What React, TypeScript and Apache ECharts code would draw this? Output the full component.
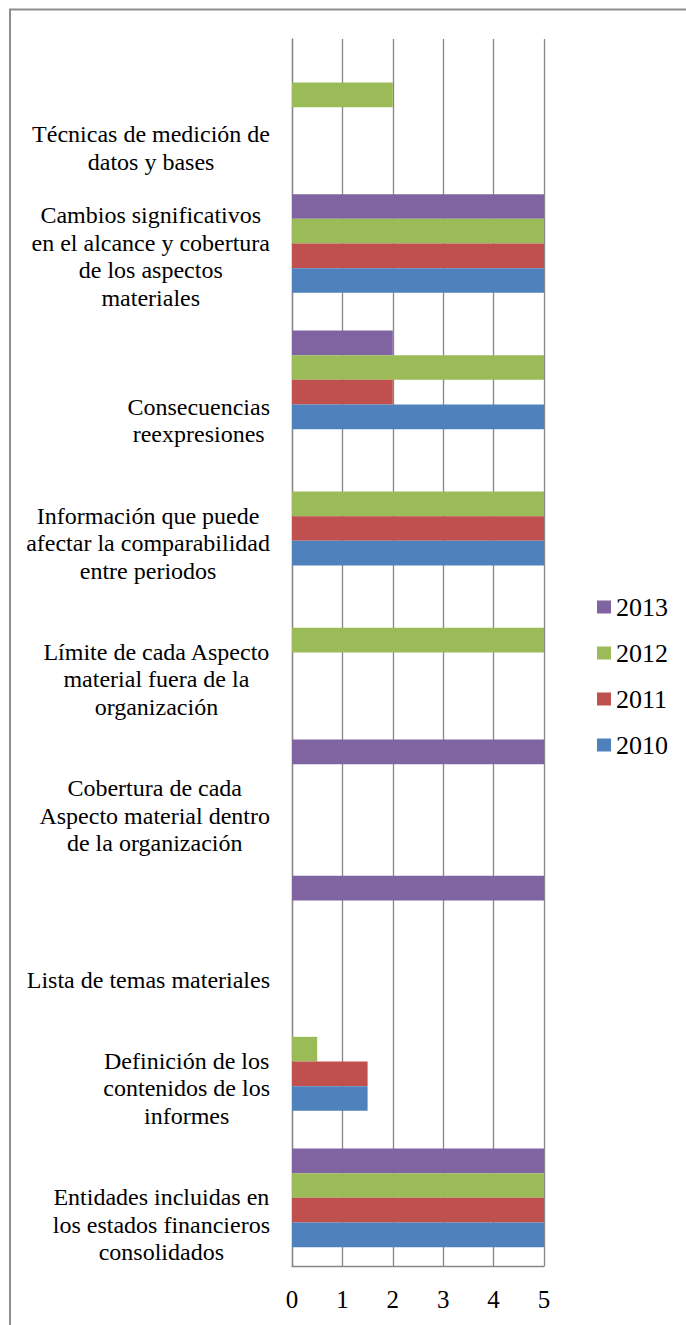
import React, { useEffect, useRef } from "react";
import * as echarts from "echarts";

// Categories listed bottom-to-top (index 0 is the lowest band)
const categories: string[] = [
  "Entidades incluidas en\nlos estados financieros\nconsolidados",
  "Definición de los\ncontenidos de los\ninformes",
  "Lista de temas materiales",
  "Cobertura de cada\nAspecto material dentro\nde la organización",
  "Límite de cada Aspecto\nmaterial fuera de la\norganización",
  "Información que puede\nafectar la comparabilidad\nentre periodos",
  "Consecuencias\nreexpresiones",
  "Cambios significativos\nen el alcance y cobertura\nde los aspectos\nmateriales",
  "Técnicas de medición de\ndatos y bases",
];

const values2010: (number | null)[] = [5, 1.5, null, null, null, 5, 5, 5, null];
const values2011: (number | null)[] = [5, 1.5, null, null, null, 5, 2, 5, null];
const values2012: (number | null)[] = [5, 0.5, null, null, 5, 5, 5, 5, 2];
const values2013: (number | null)[] = [5, null, 5, 5, null, null, 2, 5, null];

const seriesNames = ["2013", "2012", "2011", "2010"];
const seriesValues = [values2013, values2012, values2011, values2010];
const seriesColors = ["#8064A2", "#9BBB59", "#C0504D", "#4F81BD"];

const xTicks = [0, 1, 2, 3, 4, 5];

const FONT = "Liberation Serif";

export default function App() {
  const ref = useRef<HTMLDivElement>(null);

  useEffect(() => {
    if (!ref.current) return;
    const chart = echarts.init(ref.current, undefined, { renderer: "svg" });
    const option: any = {
      animation: false,
      backgroundColor: "#ffffff",
      textStyle: { fontFamily: FONT },
      graphic: [
        {
          type: "rect",
          shape: { x: 10, y: 9.5, width: 900, height: 1600 },
          style: { fill: "none", stroke: "#8e8e8e", lineWidth: 2 },
          silent: true,
          z: 100,
        },
      ],
      legend: {
        orient: "vertical",
        left: 592,
        top: 589,
        itemWidth: 14,
        itemHeight: 13,
        itemGap: 20,
        icon: "rect",
        data: seriesNames,
        textStyle: {
          fontFamily: FONT,
          fontSize: 26,
          lineHeight: 26,
          color: "#000000",
        },
      },
      grid: {
        left: 292,
        top: 39,
        width: 252,
        height: 1227,
        containLabel: false,
        outerBoundsMode: "none",
      },
      xAxis: {
        type: "value",
        min: xTicks[0],
        max: xTicks[xTicks.length - 1],
        interval: 1,
        axisLine: { show: true, lineStyle: { color: "#868686", width: 1.3 } },
        axisTick: { show: false },
        splitLine: { show: true, lineStyle: { color: "#868686", width: 1.3 } },
        axisLabel: {
          fontFamily: FONT,
          fontSize: 25,
          color: "#000000",
          margin: 21,
        },
      },
      yAxis: [
        {
          type: "category",
          data: categories,
          axisLine: { show: true, lineStyle: { color: "#868686", width: 1.3 } },
          axisTick: { show: false },
          axisLabel: { show: false },
          splitLine: { show: false },
        },
        {
          type: "value",
          position: "left",
          min: 0,
          max: categories.length,
          interval: 1,
          axisLine: { show: false },
          axisTick: { show: false },
          splitLine: { show: false },
          axisLabel: {
            show: true,
            margin: 22,
            align: "right",
            verticalAlign: "bottom",
            fontFamily: FONT,
            formatter: (v: number) => {
              const c = categories[Math.round(v)];
              if (!c) return "";
              return c
                .split("\n")
                .map((l) => "{c|" + l + "}")
                .join("\n");
            },
            rich: {
              c: {
                align: "center",
                fontFamily: FONT,
                fontSize: 24,
                lineHeight: 27.5,
                color: "#000000",
              },
            },
          },
        },
      ],
      series: seriesNames.map((name, i) => ({
        name,
        type: "bar",
        yAxisIndex: 0,
        data: seriesValues[i],
        barGap: "0%",
        barCategoryGap: "27.6%",
        itemStyle: { color: seriesColors[i] },
      })),
    };
    chart.setOption(option);
    return () => chart.dispose();
  }, []);

  return (
    <div
      ref={ref}
      style={{ position: "absolute", left: 0, top: 0, width: 686, height: 1325 }}
    />
  );
}
